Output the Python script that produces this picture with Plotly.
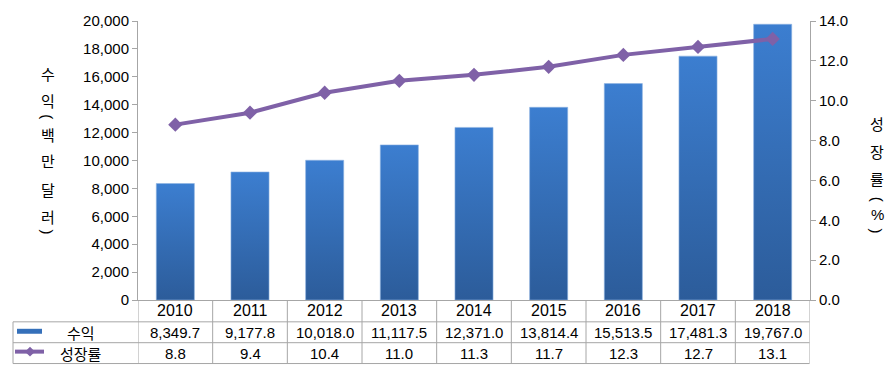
import plotly.graph_objects as go

years = ["2010", "2011", "2012", "2013", "2014", "2015", "2016", "2017", "2018"]
revenue = [8349.7, 9177.8, 10018.0, 11117.5, 12371.0, 13814.4, 15513.5, 17481.3, 19767.0]
growth = [8.8, 9.4, 10.4, 11.0, 11.3, 11.7, 12.3, 12.7, 13.1]
rev_name = "수익"
growth_name = "성장률"
left_title = ["수", "익", "(", "백", "만", "달", "러", ")"]
right_title = ["성", "장", "률", "(", "%", ")"]

W, H = 893, 374
L, R, T, B = 138, 810, 19, 300
GRID = "#a6a6a6"
BAR = "#3570ba"
LINE = "#7f61a7"
FONT = "Liberation Sans, Arial, sans-serif"
KFONT = "Noto Sans CJK KR, sans-serif"


def px(x):
    return (x - L) / (R - L)


def py(y):
    return (B - y) / (B - T)


fig = go.Figure()
fig.add_trace(go.Bar(x=years, y=revenue, name=rev_name, width=0.51,
                     marker=dict(color=BAR, line=dict(color="#8fb4e3", width=0.6)),
                     yaxis="y"))
fig.add_trace(go.Scatter(x=years, y=growth, name=growth_name, mode="lines+markers",
                         line=dict(color=LINE, width=4),
                         marker=dict(symbol="diamond", size=11, color=LINE),
                         yaxis="y2"))

shapes = []
annotations = []

# table horizontal lines
for yy in (322, 343, 364):
    shapes.append(dict(type="line", xref="paper", yref="paper", x0=px(13), x1=px(809.5),
                       y0=py(yy), y1=py(yy), line=dict(color=GRID, width=1)))
# table vertical lines
for i in range(len(years) + 1):
    shapes.append(dict(type="line", xref="x", yref="paper", x0=i - 0.5, x1=i - 0.5,
                       y0=py(300), y1=py(364), line=dict(color=GRID, width=1)))
shapes.append(dict(type="line", xref="paper", yref="paper", x0=px(13), x1=px(13),
                   y0=py(322), y1=py(364), line=dict(color=GRID, width=1)))

# legend keys
shapes.append(dict(type="rect", xref="paper", yref="paper", x0=px(17), x1=px(42),
                   y0=py(334), y1=py(329), fillcolor=BAR, line=dict(width=0)))
shapes.append(dict(type="line", xref="paper", yref="paper", x0=px(15), x1=px(44),
                   y0=py(352), y1=py(352), line=dict(color=LINE, width=4)))
shapes.append(dict(type="path", xref="paper", yref="paper",
                   path="M {} {} L {} {} L {} {} L {} {} Z".format(
                       px(30), py(347), px(35), py(352), px(30), py(357), px(25), py(352)),
                   fillcolor=LINE, line=dict(width=0)))


def ann(x, y, text, font, xref="paper", angle=0):
    annotations.append(dict(x=x, y=y, xref=xref, yref="paper", text=text, showarrow=False,
                            xanchor="center", yanchor="middle", font=font, textangle=angle))


NUMF = dict(family=FONT, size=15, color="#000")
KF = dict(family=KFONT, size=15, color="#000")

# table texts
for i, yr in enumerate(years):
    ann(i, py(311), yr, dict(family=FONT, size=16, color="#000"), xref="x")
    ann(i, py(332.5), "{:,.1f}".format(revenue[i]), NUMF, xref="x")
    ann(i, py(353.5), "{:.1f}".format(growth[i]), NUMF, xref="x")
ann(px(81), py(332.5), rev_name, KF)
ann(px(81), py(353.5), growth_name, KF)

# vertical axis titles
left_y = [72, 99, 115, 133, 160, 189, 216, 231]
for ch, yy in zip(left_title, left_y):
    if ch in "()":
        ann(px(48), py(yy), ch, NUMF, angle=90)
    else:
        ann(px(48), py(yy), ch, KF)
right_y = [122, 150, 178, 198, 214, 230]
for ch, yy in zip(right_title, right_y):
    if ch in "()":
        ann(px(877), py(yy), ch, NUMF, angle=90)
    else:
        ann(px(877), py(yy), ch, KF if ch != "%" else NUMF)

fig.update_layout(
    width=W, height=H,
    margin=dict(l=L, r=W - R, t=T, b=H - B),
    paper_bgcolor="white", plot_bgcolor="white",
    showlegend=False, bargap=0.49,
    xaxis=dict(type="category", range=[-0.5, len(years) - 0.5], showticklabels=False,
               ticks="", showgrid=False,
               showline=True, linecolor=GRID, linewidth=1, zeroline=False),
    yaxis=dict(range=[0, 20000], dtick=2000, tickformat=",", showgrid=False, zeroline=False,
               showline=True, linecolor=GRID, linewidth=1, ticks="outside", ticklen=5,
               tickcolor=GRID, tickfont=dict(family=FONT, size=15, color="#000")),
    yaxis2=dict(range=[0, 14], dtick=2, tickformat=".1f", overlaying="y", side="right",
                showgrid=False, zeroline=False, showline=True, linecolor=GRID, linewidth=1,
                ticks="outside", ticklen=5, tickcolor=GRID,
                tickfont=dict(family=FONT, size=15, color="#000")),
    shapes=shapes, annotations=annotations,
)

post = """
document.body.style.margin = '0';
var gd = document.getElementById('{plot_id}');
function applyGrad(){
  var svg = gd.querySelector('svg.main-svg');
  if(!svg) return;
  var ns = 'http://www.w3.org/2000/svg';
  var defs = svg.querySelector('defs');
  if(!document.getElementById('bargrad')){
    var lg = document.createElementNS(ns, 'linearGradient');
    lg.setAttribute('id', 'bargrad');
    lg.setAttribute('x1', '0'); lg.setAttribute('y1', '0');
    lg.setAttribute('x2', '0'); lg.setAttribute('y2', '1');
    var s1 = document.createElementNS(ns, 'stop');
    s1.setAttribute('offset', '0'); s1.setAttribute('stop-color', '#3c7ed0');
    var s2 = document.createElementNS(ns, 'stop');
    s2.setAttribute('offset', '1'); s2.setAttribute('stop-color', '#2c5c9a');
    lg.appendChild(s1); lg.appendChild(s2);
    defs.appendChild(lg);
  }
  gd.querySelectorAll('.barlayer .point path').forEach(function(p){ p.style.fill = 'url(#bargrad)'; });
}
applyGrad();
gd.on('plotly_afterplot', applyGrad);
"""

fig.write_html("out.html", post_script=post, config={"displayModeBar": False})
